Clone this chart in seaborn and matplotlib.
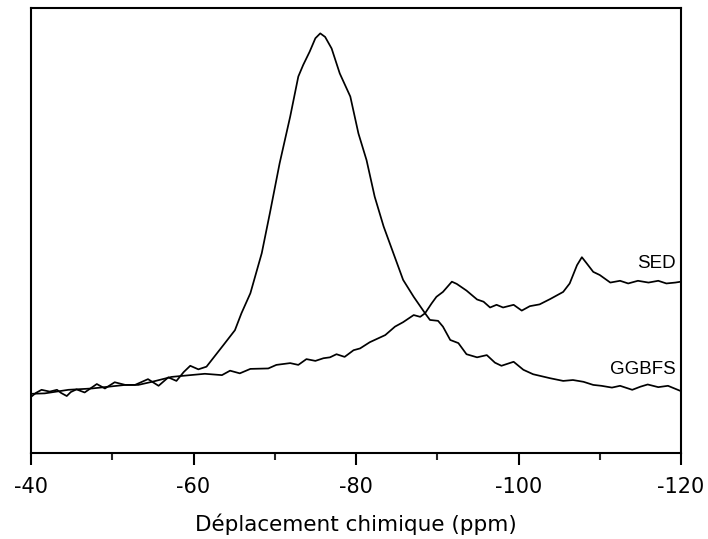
import numpy as np
import pandas as pd
import matplotlib
matplotlib.use("Agg")
import matplotlib.pyplot as plt
from matplotlib.ticker import MultipleLocator
import seaborn as sns

# 29Si NMR spectra: chemical shift (ppm) and intensity (a.u.)
ggbfs_ppm = [-40.0, -40.6, -41.3, -42.3, -43.2, -43.7, -44.4, -44.9, -45.6, -46.6,
             -48.1, -49.1, -50.3, -51.6, -52.8, -54.4, -55.7, -56.9, -57.9, -58.8,
             -59.6, -60.6, -61.6, -63.7, -65.1, -65.9, -67.0, -68.4, -69.4, -70.6,
             -71.9, -72.9, -73.5, -74.3, -75.0, -75.6, -76.2, -77.0, -78.0, -79.3,
             -80.3, -81.3, -82.3, -83.4, -84.6, -85.8, -87.1, -88.5, -89.1, -90.1,
             -90.7, -91.6, -92.6, -93.6, -94.9, -96.1, -97.1, -97.9, -99.4, -100.6,
             -101.8, -103.9, -105.5, -106.7, -108.0, -109.2, -110.2, -111.5, -112.5, -114.0,
             -115.0, -115.9, -117.2, -118.4, -120.0]
ggbfs_int = [12.6, 13.5, 14.2, 13.8, 14.2, 13.5, 12.8, 13.7, 14.3, 13.6,
             15.5, 14.5, 15.9, 15.3, 15.3, 16.6, 15.1, 17.0, 16.2, 18.2,
             19.6, 18.8, 19.4, 24.3, 27.6, 31.4, 35.9, 44.9, 53.9, 65.1,
             75.6, 84.6, 87.2, 90.2, 93.2, 94.3, 93.5, 90.9, 85.3, 80.1,
             71.8, 65.8, 57.6, 50.9, 44.9, 38.9, 35.1, 31.4, 29.9, 29.7,
             28.4, 25.4, 24.7, 22.2, 21.5, 22.0, 20.3, 19.6, 20.5, 18.7,
             17.7, 16.8, 16.2, 16.4, 16.0, 15.3, 15.1, 14.7, 15.1, 14.2,
             14.9, 15.4, 14.8, 15.1, 13.9]

sed_ppm = [-40.0, -41.7, -44.6, -47.5, -51.6, -53.2, -54.9, -57.3, -59.6, -61.4,
           -63.5, -64.5, -65.7, -67.0, -69.2, -70.2, -71.9, -72.9, -73.9, -75.0,
           -76.0, -76.8, -77.6, -78.6, -79.7, -80.5, -81.7, -83.6, -84.8, -85.8,
           -87.1, -87.9, -88.5, -89.3, -89.9, -90.7, -91.8, -92.4, -93.6, -94.9,
           -95.7, -96.5, -97.3, -98.1, -99.4, -100.4, -101.4, -102.6, -103.9, -105.5,
           -106.3, -107.2, -107.8, -108.4, -109.2, -110.0, -111.3, -112.5, -113.5, -114.7,
           -116.0, -117.2, -118.2, -119.3, -120.0]
sed_int = [13.3, 13.4, 14.2, 14.5, 15.3, 15.3, 16.0, 17.1, 17.5, 17.8,
           17.5, 18.5, 17.9, 18.9, 19.0, 19.8, 20.2, 19.8, 21.1, 20.7,
           21.3, 21.5, 22.2, 21.6, 23.1, 23.5, 24.9, 26.5, 28.4, 29.4,
           31.0, 30.6, 31.4, 33.6, 35.1, 36.2, 38.5, 38.0, 36.5, 34.5,
           34.0, 32.7, 33.3, 32.7, 33.3, 32.0, 33.0, 33.4, 34.6, 36.2,
           38.1, 42.2, 44.0, 42.6, 40.7, 40.0, 38.3, 38.7, 38.1, 38.7,
           38.3, 38.7, 38.1, 38.3, 38.5]

sample_names = ["GGBFS", "SED"]
label_ppm = [-119.4, -119.4]
label_int = [18.8, 42.5]

x_ticks = [-40, -60, -80, -100, -120]
x_label = "Déplacement chimique (ppm)"

df = pd.concat([
    pd.DataFrame({"ppm": ggbfs_ppm, "intensity": ggbfs_int, "sample": sample_names[0]}),
    pd.DataFrame({"ppm": sed_ppm, "intensity": sed_int, "sample": sample_names[1]}),
], ignore_index=True)

sns.set_style("ticks")
plt.rcParams["font.family"] = ["DejaVu Sans"]
plt.rcParams["text.color"] = "black"
plt.rcParams["axes.labelcolor"] = "black"

fig = plt.figure(figsize=(7.08, 5.39), dpi=100)
ax = fig.add_axes([31 / 708, 1 - 453 / 539, 650 / 708, 445 / 539])

sns.lineplot(data=df, x="ppm", y="intensity", units="sample", estimator=None,
             sort=False, color="black", linewidth=1.25, ax=ax, legend=False)
for ln in ax.get_lines():
    ln.set_solid_joinstyle("round")

for name, xp, yp in zip(sample_names, label_ppm, label_int):
    ax.text(xp, yp, name, ha="right", va="center", fontsize=13.5, color="black",
            family=["Liberation Sans", "DejaVu Sans"])

ax.set_xlim(-40, -120)
ax.set_ylim(0, 100)
ax.set_xticks(x_ticks)
ax.set_xticklabels([str(t) for t in x_ticks])
ax.xaxis.set_minor_locator(MultipleLocator(10))
ax.set_yticks([])
ax.set_ylabel("")
ax.set_xlabel(x_label, fontsize=15.5, labelpad=12, color="black")

for s in ax.spines.values():
    s.set_visible(True)
    s.set_linewidth(1.5)
    s.set_color("black")
ax.tick_params(axis="x", which="major", direction="out", length=8.5, width=1.5,
               labelsize=15, pad=9, colors="black")
ax.tick_params(axis="x", which="minor", direction="out", length=5, width=1.5)

fig.savefig("out.png", dpi=100)
